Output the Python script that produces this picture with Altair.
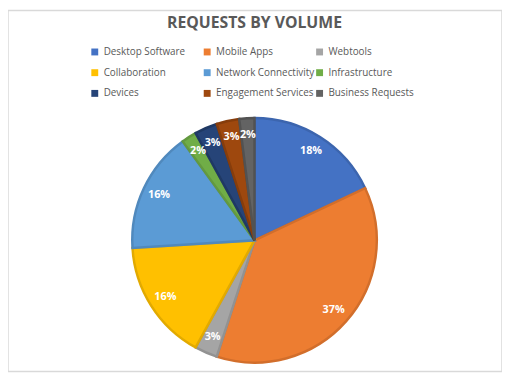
import altair as alt
import pandas as pd

categories = ["Desktop Software", "Mobile Apps", "Webtools", "Collaboration",
              "Network Connectivity", "Infrastructure", "Devices",
              "Engagement Services", "Business Requests"]
values = [18, 37, 3, 16, 16, 2, 3, 3, 2]
fill_colors = ["#4472C4", "#ED7D31", "#A5A5A5", "#FFC000", "#5B9BD5",
               "#70AD47", "#264478", "#9E480E", "#636363"]
stroke_colors = ["#3C65AE", "#D26E2B", "#929292", "#E2AA00", "#5089BD",
                 "#63993F", "#1F3964", "#863D0C", "#525252"]
title_text = "REQUESTS BY VOLUME"

df = pd.DataFrame({
    "category": categories,
    "value": values,
    "idx": list(range(len(categories))),
    "label": [f"{v}%" for v in values],
})

W, H = 501, 366
CX, CY = 250, 233
R = 124

base = alt.Chart(df).encode(
    theta=alt.Theta("value:Q", stack=True),
    order=alt.Order("idx:Q"),
)

arcs = base.mark_arc(outerRadius=R, strokeWidth=2.5, strokeJoin="miter").encode(
    x=alt.value(CX),
    y=alt.value(CY),
    color=alt.Color(
        "category:N",
        sort=categories,
        scale=alt.Scale(domain=categories, range=fill_colors),
        legend=alt.Legend(
            title=None,
            orient="none",
            direction="horizontal",
            legendX=83,
            legendY=37,
            columns=3,
            gridAlign="all",
            columnPadding=0,
            rowPadding=11,
            symbolType="square",
            symbolSize=49,
            symbolStrokeWidth=0,
            labelFont="Open Sans",
            labelFontSize=10,
            labelColor="#595959",
            labelLimit=200,
            labelOffset=4,
        ),
    ),
    stroke=alt.Stroke(
        "category:N",
        sort=categories,
        scale=alt.Scale(domain=categories, range=stroke_colors),
        legend=None,
    ),
)

labels = base.mark_text(
    radius=107, font="Open Sans", fontSize=11, fontWeight="bold",
    color="white", align="center", baseline="middle",
).encode(
    x=alt.value(CX),
    y=alt.value(CY),
    text="label:N",
)

title = alt.Chart(pd.DataFrame({"t": [title_text]})).mark_text(
    font="Open Sans", fontSize=16, fontWeight="bold", color="#595959",
    align="center", baseline="middle",
).encode(x=alt.value(CX), y=alt.value(13), text="t:N")

chart = alt.layer(arcs, labels, title).properties(
    width=W, height=H, padding=0, autosize=alt.AutoSizeParams(type="none"),
).configure_view(stroke="#D9D9D9", strokeWidth=1.5)

chart.save("out.html", embed_options={"renderer": "svg", "actions": False})
